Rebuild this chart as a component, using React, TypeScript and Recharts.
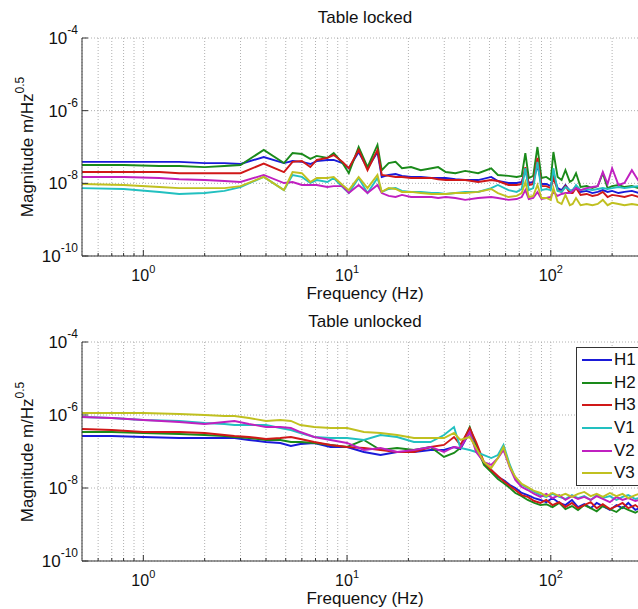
import React from "react";
import { LineChart, Line, XAxis, YAxis, CartesianGrid, Legend } from "recharts";

const FONT = "Arial, 'Liberation Sans', Helvetica, sans-serif";

const seriesNames = ["H1", "H2", "H3", "V1", "V2", "V3"];
const seriesColors = ["#1a1ad8", "#1a8a1a", "#d01818", "#22c0c0", "#c020c0", "#c0c020"];

// Table locked: frequency (Hz) and magnitude (m/Hz^0.5) per sensor
const lockedFreq = [
  0.5, 0.8, 1.2, 1.5, 2, 2.5, 3, 3.9, 4.9, 5.4, 6, 6.6, 7.1, 8, 8.6, 9.5, 10.2, 11.4, 12.6, 14.1,
  14.8, 16, 17.3, 18.6, 20.6, 23, 26, 28, 30.5, 34, 38, 44, 51, 55, 62, 68, 72, 75, 78, 82,
  86, 90, 95, 100, 103, 108, 113, 118, 124, 128, 133, 140, 150, 160, 170, 180, 190, 200, 215, 230,
  250, 270, 300,
];
const lockedH1 = [
  3.9e-8, 3.9e-8, 3.9e-8, 3.9e-8, 3.6e-8, 3.6e-8, 3.4e-8, 5.3e-8, 3.6e-8, 4.1e-8,
  3.9e-8, 3.4e-8, 4.1e-8, 4.4e-8, 4.4e-8, 3.6e-8, 2.6e-8, 7.3e-8, 2.6e-8, 7.3e-8,
  1.5e-8, 1.7e-8, 1.8e-8, 1.6e-8, 1.5e-8, 1.5e-8, 1.4e-8, 1.4e-8, 1.4e-8, 1.3e-8,
  1.23e-8, 1.23e-8, 1.5e-8, 1.16e-8, 1.02e-8, 1.02e-8, 1.09e-8, 2.3e-8, 1.02e-8, 1.09e-8,
  3.2e-8, 9.6e-9, 9.6e-9, 8.4e-9, 1.7e-8, 7.4e-9, 6.5e-9, 9.0e-9, 6.2e-9, 6.5e-9,
  8.4e-9, 5.8e-9, 6.2e-9, 5.4e-9, 5.8e-9, 6.5e-9, 5.8e-9, 6.2e-9, 5.4e-9, 5.8e-9,
  6.2e-9, 5.4e-9, 5.8e-9,
];
const lockedH2 = [
  3.2e-8, 3.2e-8, 3.0e-8, 3.0e-8, 2.8e-8, 3.0e-8, 3.2e-8, 8.3e-8, 3.6e-8, 6.8e-8,
  6.4e-8, 4.7e-8, 5.7e-8, 5.0e-8, 6.8e-8, 3.6e-8, 1.9e-8, 1.0e-7, 2.8e-8, 1.14e-7,
  2.3e-8, 3.6e-8, 3.9e-8, 2.6e-8, 2.8e-8, 2.3e-8, 2.6e-8, 2.8e-8, 2.05e-8, 1.9e-8,
  2.2e-8, 1.9e-8, 2.6e-8, 1.7e-8, 1.6e-8, 1.5e-8, 1.6e-8, 6.8e-8, 1.4e-8, 1.6e-8,
  1.0e-7, 1.4e-8, 1.5e-8, 1.23e-8, 7.3e-8, 1.5e-8, 1.23e-8, 2.3e-8, 1.1e-8, 1.23e-8,
  1.9e-8, 7.9e-9, 8.4e-9, 7.4e-9, 8.4e-9, 1.9e-8, 7.4e-9, 8.4e-9, 9.0e-9, 7.9e-9,
  8.4e-9, 7.4e-9, 7.9e-9,
];
const lockedH3 = [
  2.05e-8, 2.05e-8, 2.05e-8, 1.9e-8, 1.9e-8, 1.9e-8, 1.9e-8, 3.5e-8, 2.05e-8, 3.9e-8,
  4.1e-8, 2.8e-8, 4.4e-8, 5.0e-8, 6.0e-8, 3.9e-8, 2.6e-8, 8.3e-8, 2.3e-8, 8.3e-8,
  1.7e-8, 1.6e-8, 1.5e-8, 1.5e-8, 1.4e-8, 1.4e-8, 1.4e-8, 1.3e-8, 1.23e-8, 1.23e-8,
  1.23e-8, 1.09e-8, 1.23e-8, 1.16e-8, 9.0e-9, 9.0e-9, 9.6e-9, 2.8e-8, 9.0e-9, 9.6e-9,
  5.0e-8, 8.4e-9, 8.4e-9, 7.4e-9, 1.4e-8, 6.5e-9, 5.8e-9, 8.4e-9, 5.4e-9, 5.4e-9,
  7.4e-9, 4.8e-9, 5.1e-9, 4.5e-9, 4.8e-9, 5.8e-9, 4.2e-9, 4.8e-9, 4.5e-9, 4.2e-9,
  4.8e-9, 4.2e-9, 4.5e-9,
];
const lockedV1 = [
  7.4e-9, 7.0e-9, 5.8e-9, 5.1e-9, 5.4e-9, 6.2e-9, 7.9e-9, 1.5e-8, 6.5e-9, 1.7e-8,
  1.5e-8, 1.02e-8, 1.23e-8, 1.09e-8, 1.4e-8, 7.9e-9, 5.4e-9, 1.4e-8, 5.4e-9, 1.4e-8,
  5.8e-9, 7.0e-9, 7.4e-9, 6.2e-9, 5.8e-9, 5.8e-9, 5.4e-9, 5.4e-9, 5.1e-9, 5.4e-9,
  5.8e-9, 5.8e-9, 7.4e-9, 9.0e-9, 6.5e-9, 5.8e-9, 7.0e-9, 2.6e-8, 6.5e-9, 7.4e-9,
  3.9e-8, 6.5e-9, 7.0e-9, 6.5e-9, 2.6e-8, 6.2e-9, 5.8e-9, 7.9e-9, 6.5e-9, 6.2e-9,
  9.0e-9, 6.5e-9, 7.0e-9, 6.5e-9, 7.0e-9, 7.4e-9, 7.0e-9, 7.4e-9, 7.9e-9, 7.4e-9,
  7.9e-9, 8.4e-9, 7.9e-9,
];
const lockedV2 = [
  1.5e-8, 1.5e-8, 1.4e-8, 1.3e-8, 1.23e-8, 1.16e-8, 1.09e-8, 1.7e-8, 1.02e-8, 1.09e-8,
  9.0e-9, 9.0e-9, 9.0e-9, 7.9e-9, 8.4e-9, 8.4e-9, 5.4e-9, 9.0e-9, 5.4e-9, 9.0e-9,
  5.4e-9, 4.5e-9, 4.2e-9, 4.8e-9, 4.2e-9, 4.2e-9, 4.2e-9, 3.95e-9, 4.2e-9, 3.95e-9,
  3.5e-9, 3.95e-9, 4.2e-9, 3.95e-9, 3.5e-9, 3.7e-9, 4.2e-9, 6.5e-9, 3.7e-9, 3.95e-9,
  5.8e-9, 3.7e-9, 3.95e-9, 4.2e-9, 5.8e-9, 4.5e-9, 5.1e-9, 5.4e-9, 5.4e-9, 6.2e-9,
  7.4e-9, 6.5e-9, 7.4e-9, 7.9e-9, 8.4e-9, 2.05e-8, 9.6e-9, 2.6e-8, 9.0e-9, 1.02e-8,
  2.3e-8, 1.16e-8, 1.23e-8,
];
const lockedV3 = [
  9.6e-9, 9.0e-9, 7.9e-9, 7.4e-9, 7.4e-9, 7.4e-9, 8.4e-9, 1.5e-8, 6.5e-9, 2.05e-8,
  1.9e-8, 1.09e-8, 1.4e-8, 1.4e-8, 1.5e-8, 9.0e-9, 6.5e-9, 1.5e-8, 7.4e-9, 1.7e-8,
  5.8e-9, 7.4e-9, 7.0e-9, 5.8e-9, 5.8e-9, 5.4e-9, 5.1e-9, 5.1e-9, 5.1e-9, 5.4e-9,
  5.4e-9, 5.8e-9, 7.0e-9, 5.4e-9, 4.2e-9, 4.5e-9, 5.4e-9, 1.09e-8, 4.2e-9, 4.5e-9,
  9.0e-9, 3.95e-9, 3.95e-9, 3.5e-9, 7.4e-9, 3.1e-9, 2.7e-9, 4.8e-9, 2.5e-9, 2.7e-9,
  3.95e-9, 2.5e-9, 2.7e-9, 2.5e-9, 2.7e-9, 3.5e-9, 2.5e-9, 2.9e-9, 2.7e-9, 2.5e-9,
  2.7e-9, 2.5e-9, 2.7e-9,
];

// Table unlocked
const unlockedFreq = [
  0.5, 0.7, 1, 1.5, 2, 2.5, 2.8, 3.3, 4, 4.7, 5.3, 5.9, 6.9, 8.3, 10, 12.1, 14.6, 17.6, 21.3, 25.7,
  29.9, 33.5, 36, 40, 43, 47, 51, 55, 58.6, 63, 67, 72, 77, 83, 89, 95, 102, 110, 118, 127,
  136, 146, 157, 168, 180, 195, 210, 225, 240, 260, 280, 300,
];
const unlockedH1 = [
  2.66e-7, 2.66e-7, 2.5e-7, 2.34e-7, 2.34e-7, 2.34e-7, 2.34e-7, 2.07e-7, 1.82e-7, 1.71e-7,
  1.42e-7, 1.61e-7, 1.71e-7, 1.33e-7, 1.33e-7, 9.7e-8, 8.0e-8, 9.7e-8, 9.7e-8, 1.1e-7,
  1.1e-7, 1.33e-7, 1.17e-7, 3.42e-7, 1.1e-7, 4.84e-8, 3.11e-8, 2.0e-8, 1.66e-8, 1.21e-8,
  1.0e-8, 7.3e-9, 6.4e-9, 5.3e-9, 4.7e-9, 4.1e-9, 5.3e-9, 3.9e-9, 3.4e-9, 4.7e-9,
  3.0e-9, 3.6e-9, 2.8e-9, 3.9e-9, 3.2e-9, 2.5e-9, 3.4e-9, 2.8e-9, 3.9e-9, 2.5e-9,
  3.0e-9, 2.2e-9,
];
const unlockedH2 = [
  3.42e-7, 3.42e-7, 3.21e-7, 3.02e-7, 2.83e-7, 2.66e-7, 2.5e-7, 2.34e-7, 2.07e-7, 2.07e-7,
  1.82e-7, 1.82e-7, 1.71e-7, 1.51e-7, 1.33e-7, 2.07e-7, 1.1e-7, 1.25e-7, 1.1e-7, 1.33e-7,
  7.1e-8, 9.1e-8, 1.25e-7, 4.69e-7, 1.51e-7, 4.27e-8, 2.74e-8, 1.76e-8, 1.37e-8, 1.0e-8,
  7.3e-9, 6.0e-9, 4.7e-9, 3.9e-9, 3.4e-9, 3.6e-9, 3.0e-9, 3.9e-9, 2.65e-9, 3.2e-9,
  2.5e-9, 3.4e-9, 2.8e-9, 2.3e-9, 3.2e-9, 2.65e-9, 2.2e-9, 3.0e-9, 2.5e-9, 2.1e-9,
  2.65e-9, 1.95e-9,
];
const unlockedH3 = [
  4.13e-7, 3.88e-7, 3.42e-7, 3.42e-7, 3.21e-7, 2.83e-7, 2.66e-7, 2.5e-7, 2.2e-7, 2.34e-7,
  2.5e-7, 2.2e-7, 1.82e-7, 1.51e-7, 1.33e-7, 1.25e-7, 1.1e-7, 9.7e-8, 9.7e-8, 1.33e-7,
  1.51e-7, 2.5e-7, 1.51e-7, 4.4e-7, 1.82e-7, 5.15e-8, 3.11e-8, 2.13e-8, 1.56e-8, 1.13e-8,
  8.8e-9, 6.4e-9, 5.7e-9, 4.4e-9, 3.9e-9, 4.7e-9, 3.4e-9, 4.1e-9, 3.0e-9, 3.9e-9,
  2.8e-9, 3.4e-9, 4.1e-9, 2.8e-9, 3.6e-9, 2.65e-9, 3.2e-9, 3.9e-9, 2.8e-9, 3.4e-9,
  2.5e-9, 3.2e-9,
];
const unlockedV1 = [
  8.81e-7, 8.28e-7, 7.3e-7, 6.85e-7, 6.04e-7, 5.67e-7, 5.32e-7, 5.32e-7, 5.32e-7, 4.4e-7,
  3.88e-7, 3.21e-7, 2.5e-7, 2.34e-7, 2.34e-7, 2.07e-7, 2.83e-7, 2.5e-7, 1.82e-7, 1.82e-7,
  2.83e-7, 4.69e-7, 1.25e-7, 1.1e-7, 9.7e-8, 8.0e-8, 6.6e-8, 8.0e-8, 1.51e-7, 4.27e-8,
  1.88e-8, 1.21e-8, 1.0e-8, 7.8e-9, 6.4e-9, 5.7e-9, 6.9e-9, 5.7e-9, 5.0e-9, 6.4e-9,
  5.3e-9, 6.0e-9, 4.7e-9, 6.4e-9, 5.3e-9, 6.0e-9, 4.7e-9, 5.7e-9, 6.4e-9, 5.0e-9,
  5.7e-9, 4.7e-9,
];
const unlockedV2 = [
  8.81e-7, 8.28e-7, 7.3e-7, 6.43e-7, 5.67e-7, 6.43e-7, 6.85e-7, 5.67e-7, 4.69e-7, 4.69e-7,
  4.4e-7, 3.42e-7, 2.5e-7, 2.07e-7, 1.71e-7, 1.1e-7, 1.25e-7, 9.7e-8, 1.1e-7, 1.33e-7,
  9.7e-8, 1.33e-7, 1.25e-7, 3.42e-7, 9.7e-8, 5.15e-8, 4.27e-8, 6.6e-8, 1.1e-7, 3.53e-8,
  1.66e-8, 1.06e-8, 8.8e-9, 6.9e-9, 5.7e-9, 6.9e-9, 5.3e-9, 6.4e-9, 4.7e-9, 6.0e-9,
  5.0e-9, 5.7e-9, 4.7e-9, 6.0e-9, 5.0e-9, 4.1e-9, 5.7e-9, 4.7e-9, 5.3e-9, 4.4e-9,
  5.0e-9, 3.9e-9,
];
const unlockedV3 = [
  1.135e-6, 1.135e-6, 1.135e-6, 1.066e-6, 1.0e-6, 9.39e-7, 9.39e-7, 8.28e-7, 6.85e-7, 7.3e-7,
  6.85e-7, 5.32e-7, 4.69e-7, 4.4e-7, 4.4e-7, 3.42e-7, 3.21e-7, 2.83e-7, 2.34e-7, 2.34e-7,
  2.34e-7, 3.21e-7, 2.07e-7, 2.5e-7, 1.25e-7, 5.15e-8, 3.53e-8, 6.6e-8, 1.33e-7, 3.76e-8,
  2.0e-8, 1.29e-8, 1.06e-8, 8.3e-9, 7.3e-9, 6.0e-9, 7.3e-9, 6.0e-9, 6.9e-9, 5.7e-9,
  6.9e-9, 7.8e-9, 6.0e-9, 6.9e-9, 5.7e-9, 7.3e-9, 6.0e-9, 6.9e-9, 5.3e-9, 6.4e-9,
  7.3e-9, 5.7e-9,
];

// log-axis ticks: every integer multiple within each decade gets a grid line
const freqTicks = [
  0.6, 0.7, 0.8, 0.9, 1, 2, 3, 4, 5, 6, 7, 8, 9, 10, 20, 30, 40, 50, 60, 70, 80, 90, 100, 200, 300,
];
const freqLabels = [1, 10, 100];
const magTicks = [1e-10, 1e-8, 1e-6, 1e-4];

function toRows(freq: number[], series: number[][]) {
  return freq.map((f, i) => {
    const row: Record<string, number> = { f };
    seriesNames.forEach((name, k) => {
      row[name] = series[k][i];
    });
    return row;
  });
}

const lockedRows = toRows(lockedFreq, [lockedH1, lockedH2, lockedH3, lockedV1, lockedV2, lockedV3]);
const unlockedRows = toRows(unlockedFreq, [
  unlockedH1, unlockedH2, unlockedH3, unlockedV1, unlockedV2, unlockedV3,
]);

function FreqTick({ x, y, payload }: any) {
  const v = payload.value;
  const labelled = freqLabels.includes(v);
  return (
    <g>
      <line x1={x} x2={x} y1={y} y2={y - (labelled ? 6 : 3)} stroke="#333" />
      {labelled && (
        <text x={x} y={y + 25} textAnchor="middle" fontSize={16} fill="#111" fontFamily={FONT}>
          10
          <tspan dy={-8} fontSize={11}>
            {Math.round(Math.log10(v))}
          </tspan>
        </text>
      )}
    </g>
  );
}

function MagTick({ x, y, payload }: any) {
  const e = Math.round(Math.log10(payload.value));
  return (
    <g>
      <line x1={x} x2={x + 6} y1={y} y2={y} stroke="#333" />
      <text x={x - 4} y={y + 6} textAnchor="end" fontSize={17} fill="#111" fontFamily={FONT}>
        10
        <tspan dy={-10} fontSize={12}>
          {e}
        </tspan>
      </text>
    </g>
  );
}

function LegendBox() {
  return (
    <div
      style={{
        width: 80,
        height: 139,
        border: "1px solid #333",
        background: "#fff",
        boxSizing: "border-box",
        paddingTop: 1,
        fontFamily: FONT,
      }}
    >
      {seriesNames.map((name, i) => (
        <div key={name} style={{ display: "flex", alignItems: "center", height: 22.6 }}>
          <div style={{ width: 30, marginLeft: 5, borderTop: `2px solid ${seriesColors[i]}` }} />
          <span style={{ fontSize: 17, marginLeft: 2, color: "#111" }}>{name}</span>
        </div>
      ))}
    </div>
  );
}

interface PanelProps {
  top: number;
  height: number;
  plotTop: number;
  plotHeight: number;
  title: string;
  rows: Record<string, number>[];
  legend?: boolean;
}

function Panel({ top, height, plotTop, plotHeight, title, rows, legend }: PanelProps) {
  const plotLeft = 82;
  const plotRight = 648;
  const midX = (plotLeft + plotRight) / 2;
  return (
    <div style={{ position: "absolute", left: 0, top, width: 660, height }}>
      <div
        style={{
          position: "absolute",
          left: midX - 150,
          width: 300,
          top: plotTop - 30,
          textAlign: "center",
          fontSize: 17,
          lineHeight: "20px",
          color: "#111",
        }}
      >
        {title}
      </div>
      <LineChart
        width={660}
        height={height}
        data={rows}
        margin={{ top: plotTop, right: 660 - plotRight, bottom: 0, left: 0 }}
      >
        <CartesianGrid stroke="#b0b0b0" strokeDasharray="1 2" />
        <XAxis
          dataKey="f"
          type="number"
          scale="log"
          domain={[0.5, 300]}
          allowDataOverflow
          ticks={freqTicks}
          interval={0}
          tick={<FreqTick />}
          tickLine={false}
          tickSize={0}
          tickMargin={0}
          axisLine={{ stroke: "#333" }}
          height={height - plotTop - plotHeight}
        />
        <YAxis
          type="number"
          scale="log"
          domain={[1e-10, 1e-4]}
          allowDataOverflow
          ticks={magTicks}
          interval={0}
          tick={<MagTick />}
          tickLine={false}
          tickSize={0}
          tickMargin={0}
          axisLine={{ stroke: "#333" }}
          width={plotLeft}
        />
        {legend && (
          <Legend
            layout="horizontal"
            verticalAlign="middle"
            align="center"
            content={() => <LegendBox />}
            wrapperStyle={{ left: 576, top: 47, width: 80, height: 139 }}
          />
        )}
        {seriesNames.map((name, i) => (
          <Line
            key={name}
            dataKey={name}
            type="linear"
            stroke={seriesColors[i]}
            strokeWidth={1.9}
            dot={false}
            isAnimationActive={false}
          />
        ))}
      </LineChart>
      <div
        style={{
          position: "absolute",
          left: midX - 150,
          width: 300,
          top: plotTop + plotHeight + 30,
          textAlign: "center",
          fontSize: 17,
          lineHeight: "16px",
          color: "#111",
        }}
      >
        Frequency (Hz)
      </div>
      <div
        style={{
          position: "absolute",
          left: 28,
          top: plotTop + plotHeight / 2,
          transform: "translate(-50%, -50%) rotate(-90deg)",
          whiteSpace: "nowrap",
          fontSize: 17,
          lineHeight: "20px",
          color: "#111",
        }}
      >
        Magnitude m/Hz
        <span style={{ fontSize: 12, position: "relative", top: -9 }}>0.5</span>
      </div>
    </div>
  );
}

export default function App() {
  return (
    <div
      style={{
        position: "absolute",
        left: 0,
        top: 0,
        width: 638,
        height: 609,
        overflow: "hidden",
        background: "#fff",
        fontFamily: FONT,
      }}
    >
      <Panel top={0} height={300} plotTop={38} plotHeight={218} title="Table locked" rows={lockedRows} />
      <Panel
        top={300}
        height={309}
        plotTop={42}
        plotHeight={219}
        title="Table unlocked"
        rows={unlockedRows}
        legend
      />
    </div>
  );
}
